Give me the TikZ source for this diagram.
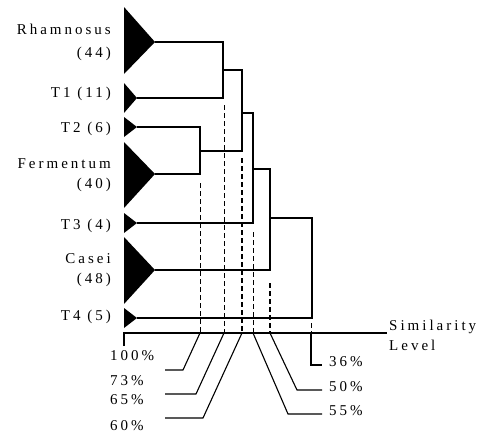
\documentclass[tikz,border=0pt]{standalone}
\usepackage{fontspec}
\setmainfont{Liberation Serif}[LetterSpace=20]
\begin{document}
\begin{tikzpicture}[x=1pt,y=-1pt,
  tree/.style={line width=1.3pt},
  cut/.style={line width=1pt,dash pattern=on 5pt off 3pt},
  cutbold/.style={line width=1.7pt,dash pattern=on 5pt off 3pt},
  leader/.style={line width=1.1pt},
  lbl/.style={font=\fontsize{15}{17}\selectfont,inner sep=0pt}]
\useasboundingbox (0,0) rectangle (480,434);

% cluster wedges
\fill (124,7) -- (155,42) -- (124,74) -- cycle;
\fill (124,83) -- (137,98) -- (124,113) -- cycle;
\fill (124,117) -- (137,127) -- (124,137) -- cycle;
\fill (124,142) -- (155,174) -- (124,208) -- cycle;
\fill (124,213) -- (137,223) -- (124,233) -- cycle;
\fill (124,237) -- (155,270) -- (124,304) -- cycle;
\fill (124,308) -- (137,318) -- (124,328) -- cycle;

% leaf tips and joins
\coordinate (aR) at (155,42);
\coordinate (a1) at (137,98);
\coordinate (a2) at (137,127);
\coordinate (aF) at (155,174);
\coordinate (a3) at (137,223);
\coordinate (aC) at (155,270);
\coordinate (a4) at (137,318);
\coordinate (j1) at (223,70);
\coordinate (j2) at (200,151);
\coordinate (j3) at (242,113);
\coordinate (j4) at (253,169);
\coordinate (j5) at (270,218);
\coordinate (root) at (312,268);

% dendrogram
\draw[tree] (aR) -- (aR -| j1) -- (a1 -| j1) -- (a1);
\draw[tree] (a2) -- (a2 -| j2) -- (aF -| j2) -- (aF);
\draw[tree] (j1) -- (j1 -| j3) -- (j2 -| j3) -- (j2);
\draw[tree] (j3) -- (j3 -| j4) -- (a3 -| j4) -- (a3);
\draw[tree] (j4) -- (j4 -| j5) -- (aC -| j5) -- (aC);
\draw[tree] (j5) -- (j5 -| root) -- (a4 -| root) -- (a4);

% similarity axis
\coordinate (ax0) at (124,333);
\coordinate (ax1) at (387,333);
\coordinate (tick) at (124,346);
\draw[tree] (tick) -- (ax0) -- (ax1);

% cut levels
\coordinate (c73) at (200,333);
\coordinate (c65) at (224,333);
\coordinate (c60) at (242,333);
\coordinate (c55) at (253,333);
\coordinate (c50) at (270,333);
\coordinate (c36) at (311,333);
\draw[cut] (200,183) -- (c73);
\draw[cut] (224,105) -- (c65);
\draw[cutbold] (242,158) -- (c60);
\draw[cut] (253,232) -- (c55);
\draw[cutbold] (270,283) -- (c50);
\draw[cut] (311,323) -- (c36);

% leader lines
\coordinate (b73) at (183,370); \coordinate (e73) at (165,370);
\coordinate (b65) at (196,394); \coordinate (e65) at (165,394);
\coordinate (b60) at (203,418); \coordinate (e60) at (165,418);
\coordinate (b55) at (288,414); \coordinate (e55) at (322,414);
\coordinate (b50) at (297,390); \coordinate (e50) at (322,390);
\coordinate (b36) at (311,365); \coordinate (e36) at (322,365);
\draw[leader] (c73) -- (b73) -- (e73);
\draw[leader] (c65) -- (b65) -- (e65);
\draw[leader] (c60) -- (b60) -- (e60);
\draw[leader] (c55) -- (b55) -- (e55);
\draw[leader] (c50) -- (b50) -- (e50);
\draw[leader] (c36) -- (b36) -- (e36);

% cluster labels
\node[lbl,anchor=base east] (lR1) at (111,34) {Rhamnosus};
\node[lbl,anchor=base east] (lR2) at (111,57) {(44)};
\node[lbl,anchor=base east] (l1) at (111,97) {T1 (11)};
\node[lbl,anchor=base east] (l2) at (111,132) {T2 (6)};
\node[lbl,anchor=base east] (lF1) at (111,168) {Fermentum};
\node[lbl,anchor=base east] (lF2) at (111,188) {(40)};
\node[lbl,anchor=base east] (l3) at (111,229) {T3 (4)};
\node[lbl,anchor=base east] (lC1) at (111,263) {Casei};
\node[lbl,anchor=base east] (lC2) at (111,283) {(48)};
\node[lbl,anchor=base east] (l4) at (111,320) {T4 (5)};

% axis labels
\node[lbl,anchor=base west] (sim) at (389,330) {Similarity};
\node[lbl,anchor=base west] (lev) at (389,350) {Level};
\node[lbl,anchor=base west] (p100) at (110,360) {100\%};
\node[lbl,anchor=base west] (p73) at (110,385) {73\%};
\node[lbl,anchor=base west] (p65) at (110,404) {65\%};
\node[lbl,anchor=base west] (p60) at (110,430) {60\%};
\node[lbl,anchor=base west] (p36) at (329,366) {36\%};
\node[lbl,anchor=base west] (p50) at (329,391) {50\%};
\node[lbl,anchor=base west] (p55) at (329,415) {55\%};
\end{tikzpicture}
\end{document}
